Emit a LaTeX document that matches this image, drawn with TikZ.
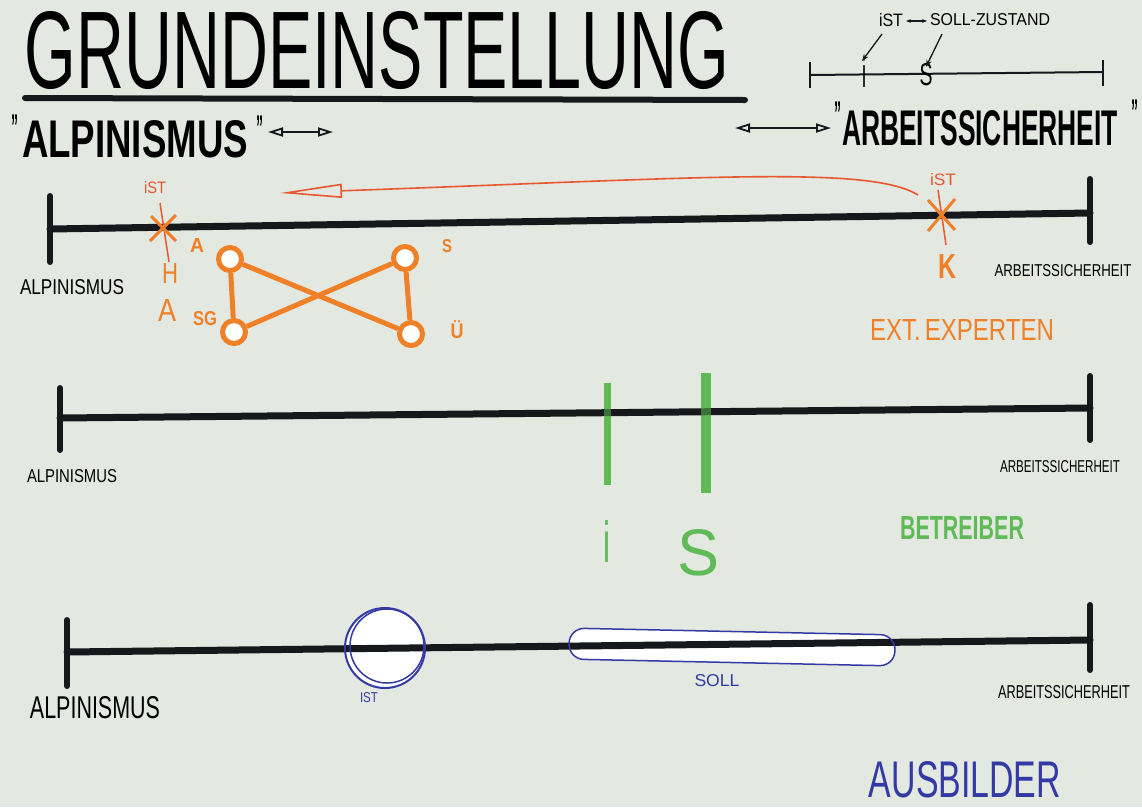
\documentclass[tikz,border=0pt]{standalone}
\usepackage{fontspec}
\setmainfont{Liberation Sans}
\usepackage{graphicx}
\usetikzlibrary{arrows.meta}
\definecolor{bg}{RGB}{227,232,225}
\definecolor{ink}{RGB}{22,24,28}
\definecolor{orng}{RGB}{240,128,40}
\definecolor{redo}{RGB}{232,88,48}
\definecolor{grn}{RGB}{96,186,88}
\definecolor{blu}{RGB}{52,58,165}
\newcommand{\fb}[3]{\resizebox{#1pt}{#2pt}{#3}}
\newcommand{\qmark}{\raisebox{-0.45em}[0.28em][0pt]{\bfseries "}}
\begin{document}
\begin{tikzpicture}[x=1pt,y=-1pt,
  txt/.style={inner sep=0pt,outer sep=0pt,anchor=center},
  tline/.style={draw=ink,line width=7pt,line cap=round},
  tick/.style={draw=ink,line width=6pt,line cap=round},
  dbl/.style={draw=ink,line width=1.8pt,{Triangle[open,length=15pt,width=9pt]}-{Triangle[open,length=15pt,width=9pt]}},
  onode/.style={circle,draw=orng,line width=5pt,fill=white,minimum size=23pt,inner sep=0pt},
  oedge/.style={draw=orng,line width=5pt},
]
\fill[bg] (0,0) rectangle (1142,807);

% title
\node[txt] (title) at (377,50) {\fb{705}{77}{GRUNDEINSTELLUNG}};
\coordinate (ulA) at (25,98);
\coordinate (ulB) at (745,100);
\draw[tick] (ulA) -- (ulB);

% headers
\node[inner sep=0pt,outer sep=0pt,anchor=base west] (halp) at (11,157) {\raisebox{34pt}{\fb{7}{10}{\qmark}}\hspace{4pt}\fb{226}{37}{\bfseries ALPINISMUS}\hspace{8pt}\raisebox{33pt}{\fb{7}{10}{\qmark}}};
\coordinate (ha1) at (268,132);
\coordinate (ha2) at (333,132);
\draw[dbl] (ha1) -- (ha2);
\coordinate (hb1) at (735,128);
\coordinate (hb2) at (831,128);
\draw[dbl] (hb1) -- (hb2);
\node[inner sep=0pt,outer sep=0pt,anchor=base west] (harb) at (834,145) {\raisebox{35pt}{\fb{7}{10}{\qmark}}\hspace{1pt}\fb{276}{35}{\bfseries ARBEITSSICHERHEIT}\hspace{13pt}\raisebox{37pt}{\fb{7}{10}{\qmark}}};

% legend top right
\coordinate (lgA) at (810,75);
\coordinate (lgB) at (1103,72);
\draw[ink,line width=2pt] (lgA) -- (lgB);
\coordinate (lgA1) at (810,62); \coordinate (lgA2) at (810,88);
\coordinate (lgB1) at (1103,60); \coordinate (lgB2) at (1103,86);
\draw[ink,line width=2pt] (lgA1) -- (lgA2);
\draw[ink,line width=2pt] (lgB1) -- (lgB2);
\node[txt] (lgi) at (864,72) {\fb{4}{30}{i}};
\node[txt] (lgs) at (926,75) {\fb{13}{22}{S}};
\node[txt] (lgist) at (891,20) {\fb{24}{13}{iST}};
\node[txt] (lgsoll) at (990,20) {\fb{120}{12}{SOLL-ZUSTAND}};
\coordinate (lgar1) at (906,21);
\coordinate (lgar2) at (927,21);
\draw[ink,line width=1.3pt,{Stealth[length=5pt]}-{Stealth[length=5pt]}] (lgar1) -- (lgar2);
\coordinate (lgp1) at (882,34);
\coordinate (lgp2) at (942,34);
\draw[ink,line width=1.3pt,-{Stealth[length=7pt]}] (lgp1) -- ([xshift=-2pt,yshift=-4pt]lgi.north);
\draw[ink,line width=1.3pt,-{Stealth[length=7pt]}] (lgp2) -- ([yshift=-3pt]lgs.north);

% ---------- line 1 ----------
\coordinate (l1a) at (50,229);
\coordinate (l1b) at (1090,213);
\draw[tline] (l1a) -- (l1b);
\coordinate (l1at) at (50,196); \coordinate (l1ab) at (50,262);
\coordinate (l1bt) at (1090,179); \coordinate (l1bb) at (1090,242);
\draw[tick] (l1at) -- (l1ab);
\draw[tick] (l1bt) -- (l1bb);
\node[txt] (alp1) at (72,287) {\fb{104}{15}{ALPINISMUS}};
\node[txt] (arb1) at (1063,271) {\fb{137}{12}{ARBEITSSICHERHEIT}};

% red arrow (ist shift)
\coordinate (rarS) at (918,195);
\coordinate (rarE) at (280,193);
\draw[redo,line width=1.6pt,-{Triangle[open,length=62pt,width=14pt]}] (rarS) .. controls (870,165) and (700,178) .. (rarE);

% left asterisk
\coordinate (as1) at (163,228);
\draw[redo,line width=1.5pt] (160,203) -- (169,262);
\draw[orng,line width=3pt] (151,216) -- (176,241);
\draw[orng,line width=3pt] (176,215) -- (150,241);
\node[txt,text=redo] (ist1) at (155,188) {\fb{22}{12}{iST}};
\node[txt,text=orng] (lH) at (170,273) {\fb{16}{20}{H}};
\node[txt,text=orng] (lA) at (167,310) {\fb{18}{22}{A}};

% right asterisk
\coordinate (as2) at (941,214);
\draw[redo,line width=1.5pt] (938,190) -- (946,245);
\draw[orng,line width=3pt] (928,200) -- (955,230);
\draw[orng,line width=3pt] (955,199) -- (928,231);
\node[txt,text=redo] (ist2) at (943,180) {\fb{26}{12}{iST}};
\node[txt,text=orng] (lK) at (947,266) {\fb{18}{24}{\bfseries K}};

% orange diagram
\node[onode] (nA) at (230,259) {};
\node[onode] (nS) at (405,258) {};
\node[onode] (nSG) at (234,332) {};
\node[onode] (nU) at (411,334) {};
\draw[oedge] (nA) -- (nSG);
\draw[oedge] (nS) -- (nU);
\draw[oedge] (nA) -- (nU);
\draw[oedge] (nSG) -- (nS);
\node[txt,text=orng] (tA) at (197,245) {\fb{14}{14}{\bfseries A}};
\node[txt,text=orng] (tS) at (447,246) {\fb{10}{13}{\bfseries S}};
\node[txt,text=orng] (tSG) at (205,319) {\fb{24}{14}{\bfseries SG}};
\node[txt,text=orng] (tU) at (457,330) {\fb{13}{18}{\bfseries Ü}};
\node[txt,text=orng] (ext) at (962,330) {\fb{184}{21}{EXT.\,EXPERTEN}};

% ---------- line 2 ----------
\coordinate (l2a) at (60,418);
\coordinate (l2b) at (1090,408);
\draw[grn,line width=7pt] (607,383) -- (607,485);
\draw[grn,line width=10pt] (706,373) -- (706,493);
\draw[tline] (l2a) -- (l2b);
\draw[grn,opacity=0.55,line width=7pt] (607,400) -- (607,430);
\draw[grn,opacity=0.55,line width=10pt] (706,395) -- (706,425);
\coordinate (l2at) at (60,388); \coordinate (l2ab) at (60,450);
\coordinate (l2bt) at (1090,376); \coordinate (l2bb) at (1090,440);
\draw[tick] (l2at) -- (l2ab);
\draw[tick] (l2bt) -- (l2bb);
\node[txt] (alp2) at (72,476) {\fb{90}{13}{ALPINISMUS}};
\node[txt] (arb2) at (1060,467) {\fb{120}{12}{ARBEITSSICHERHEIT}};
\node[txt,text=grn] (gi) at (607,541) {\fb{7}{42}{i}};
\node[txt,text=grn] (gs) at (698,553) {\fb{42}{46}{S}};
\node[txt,text=grn] (betr) at (962,528) {\fb{124}{23}{\bfseries BETREIBER}};

% ---------- line 3 ----------
\coordinate (l3a) at (67,652);
\coordinate (l3b) at (1090,640);
\node[circle,fill=white,minimum size=80pt,inner sep=0pt] (istF) at (385,648) {};
\node[rounded corners=15pt,fill=white,minimum width=326pt,minimum height=31pt,inner sep=0pt,rotate=-1.2] (sollF) at (732,647) {};
\draw[tline] (l3a) -- (l3b);
\coordinate (l3at) at (67,620); \coordinate (l3ab) at (67,686);
\coordinate (l3bt) at (1090,605); \coordinate (l3bb) at (1090,670);
\draw[tick] (l3at) -- (l3ab);
\draw[tick] (l3bt) -- (l3bb);
\node[circle,draw=blu,line width=2pt,minimum size=80pt,inner sep=0pt] (istC) at (385,648) {};
\node[circle,draw=blu,line width=1.5pt,minimum size=74pt,inner sep=0pt] (istC2) at (387,646) {};
\node[rounded corners=15pt,draw=blu,line width=1.5pt,minimum width=326pt,minimum height=31pt,inner sep=0pt,rotate=-1.2] (sollC) at (732,647) {};
\node[txt] (alp3) at (95,708) {\fb{130}{22}{ALPINISMUS}};
\node[txt] (arb3) at (1064,692) {\fb{132}{13}{ARBEITSSICHERHEIT}};
\node[txt,text=blu] (tist) at (369,698) {\fb{18}{10}{IST}};
\node[txt,text=blu] (tsoll) at (717,681) {\fb{45}{12}{SOLL}};
\node[txt,text=blu] (ausb) at (965,780) {\fb{192}{36}{AUSBILDER}};
\end{tikzpicture}
\end{document}
